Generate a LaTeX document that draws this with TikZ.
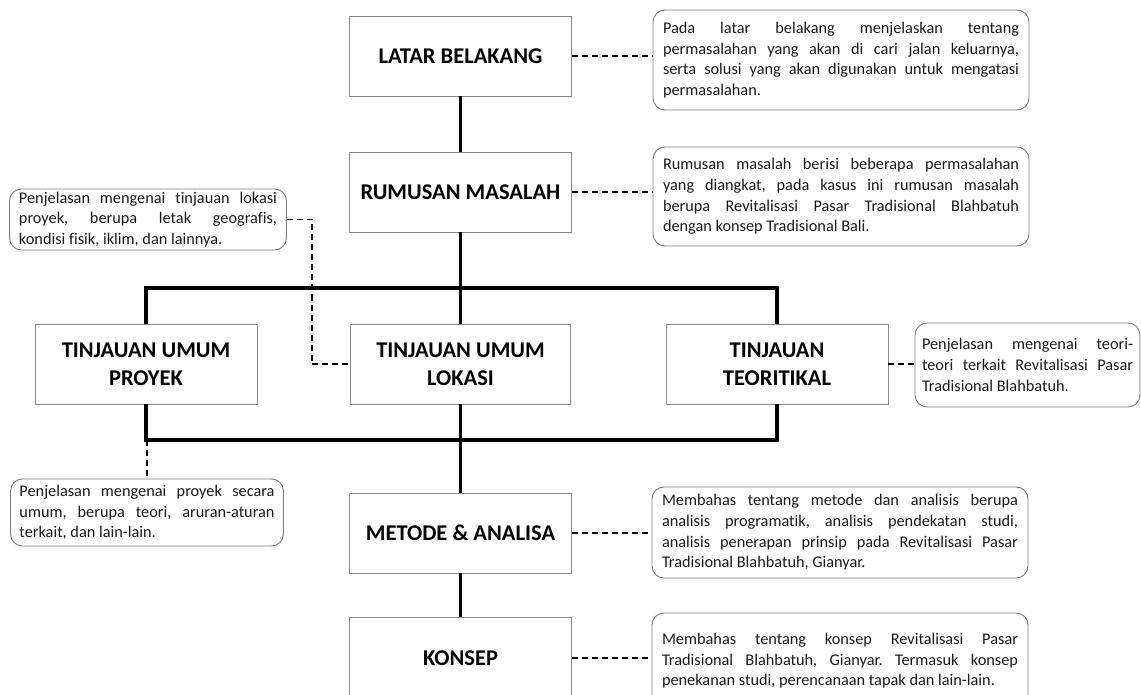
\documentclass[tikz,border=0pt]{standalone}
\usepackage{fontspec}
\setmainfont{Carlito}[Ligatures=NoCommon]
\definecolor{boxgray}{HTML}{8A8A8A}
\definecolor{callgray}{HTML}{7A7A7A}
\definecolor{txt}{HTML}{1A1A1A}
\newcommand{\calloutfont}{\fontsize{16.3}{20.6}\selectfont\frenchspacing\hyphenpenalty=10000\relax\exhyphenpenalty=10000\relax\tolerance=9999\relax}
\tikzset{
  x=1pt,y=-1pt,
  mbox/.style={draw=boxgray, line width=0.9pt, fill=white, minimum width=222pt, minimum height=80pt,
    align=center, text=black, font=\bfseries\fontsize{22.5}{28}\selectfont, inner sep=0pt},
  callout/.style={draw=callgray, line width=0.9pt, fill=white, rounded corners=12pt, align=justify,
    text=txt, inner xsep=10pt, inner ysep=0pt, font=\calloutfont},
  solidline/.style={line width=3.2pt, black, line join=miter},
  dashline/.style={line width=1.8pt, black, dash pattern=on 6pt off 4pt},
}
\begin{document}
\begin{tikzpicture}
\useasboundingbox (0,0) rectangle (1141,695);
\clip (0,0) rectangle (1141,695);
\fill[white] (0,0) rectangle (1141,695);

\coordinate (tb) at (460.5,288);
\coordinate (bb) at (460.5,440);

% main boxes
\node[mbox] (latar) at (460.5,56) {LATAR BELAKANG};
\node[mbox] (rumusan) at (460.5,192) {RUMUSAN MASALAH};
\node[mbox] (proyek) at (146,364) {TINJAUAN UMUM\\PROYEK};
\node[mbox, minimum width=220pt] (lokasi) at (460.5,364) {TINJAUAN UMUM\\LOKASI};
\node[mbox] (teori) at (777,364) {TINJAUAN\\TEORITIKAL};
\node[mbox] (metode) at (460.5,533) {METODE \& ANALISA};
\node[mbox, minimum height=82pt] (konsep) at (460.5,658) {KONSEP};

% callouts
\node[callout, text width=356pt, minimum width=376pt, minimum height=100pt] (c1) at (841,60)
 {Pada latar belakang menjelaskan tentang\linebreak permasalahan yang akan di cari jalan keluarnya,\linebreak serta solusi yang akan digunakan untuk mengatasi\linebreak permasalahan.};
\node[callout, text width=356pt, minimum width=376pt, minimum height=99pt] (c2) at (841,196.5)
 {Rumusan masalah berisi beberapa permasalahan\linebreak yang diangkat, pada kasus ini rumusan masalah\linebreak berupa Revitalisasi Pasar Tradisional Blahbatuh\linebreak dengan konsep Tradisional Bali.};
\node[callout, text width=258pt, minimum width=277pt, minimum height=61pt, inner xsep=9.5pt] (c3) at (148,219.5)
 {Penjelasan mengenai tinjauan lokasi\linebreak proyek, berupa letak geografis,\linebreak kondisi fisik, iklim, dan lainnya.};
\node[callout, text width=211pt, minimum width=225pt, minimum height=84pt, inner xsep=7pt] (c4) at (1027.5,365)
 {Penjelasan mengenai teori-\linebreak teori terkait Revitalisasi Pasar\linebreak Tradisional Blahbatuh.};
\node[callout, text width=255pt, minimum width=273pt, minimum height=67pt, inner xsep=9pt] (c5) at (147,512.5)
 {Penjelasan mengenai proyek secara\linebreak umum, berupa teori, aruran-aturan\linebreak terkait, dan lain-lain.};
\node[callout, text width=356pt, minimum width=376pt, minimum height=91pt] (c6) at (840,532.5)
 {Membahas tentang metode dan analisis berupa\linebreak analisis programatik, analisis pendekatan studi,\linebreak analisis penerapan prinsip pada Revitalisasi Pasar\linebreak Tradisional Blahbatuh, Gianyar.};
\node[callout, text width=356pt, minimum width=376pt, minimum height=96pt] (c7) at (840,661)
 {Membahas tentang konsep Revitalisasi Pasar\linebreak Tradisional Blahbatuh, Gianyar. Termasuk konsep\linebreak penekanan studi, perencanaan tapak dan lain-lain.};

% solid connectors
\draw[solidline] (latar.south) -- (rumusan.north);
\draw[solidline] (rumusan.south) -- (lokasi.north);
\draw[solidline] (proyek.north) |- (tb) -| (teori.north);
\draw[solidline] (proyek.south) |- (bb) -| (teori.south);
\draw[solidline] (lokasi.south) -- (metode.north);
\draw[solidline] (metode.south) -- (konsep.north);

% dashed connectors
\draw[dashline] (latar.east) -- (c1.west |- latar.east);
\draw[dashline] (rumusan.east) -- (c2.west |- rumusan.east);
\draw[dashline] (c3.east) -- ++(25,0) |- (lokasi.west);
\draw[dashline] (teori.east) -- (c4.west |- teori.east);
\draw[dashline] (c5.north |- bb) -- (c5.north);
\draw[dashline] (metode.east) -- (c6.west |- metode.east);
\draw[dashline] (konsep.east) -- (c7.west |- konsep.east);
\end{tikzpicture}
\end{document}
